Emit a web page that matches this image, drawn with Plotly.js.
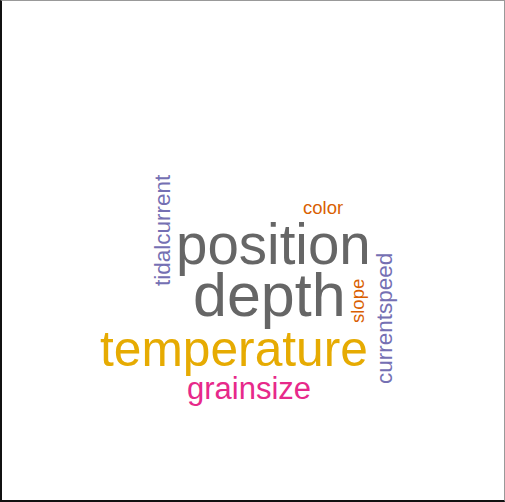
<!DOCTYPE html>
<html>
<head>
<meta charset="utf-8">
<script src="https://cdn.plot.ly/plotly-3.0.1.min.js"></script>
<style>
html,body{margin:0;padding:0;background:#fff;}
#chart{position:absolute;left:0;top:0;width:505px;height:502px;}
#frame{position:absolute;left:0;top:0;width:505px;height:502px;box-sizing:border-box;
border-left:2px solid #111;border-bottom:2px solid #111;border-top:1px solid #999;border-right:1px solid #999;pointer-events:none;}
</style>
</head>
<body>
<div id="chart"></div>
<div id="frame"></div>
<script>
// Word cloud data
var words = ["depth", "position", "temperature", "grainsize", "tidalcurrent", "currentspeed", "color", "slope"];
var weights = [61, 56.5, 49.7, 31, 22.5, 22.5, 18.5, 18.5];
var groups = ["gray", "gray", "yellow", "pink", "purple", "purple", "orange", "orange"];

// Layout of the cloud (placement in pixel-like coordinates)
var placeX = [269, 273.5, 233.5, 249, 162, 384, 322.5, 357];
var placeY = [295, 244, 349, 388, 230, 319, 207, 301];
var angles = [0, 0, 0, 0, -90, -90, 0, -90];

var palette = {gray: "#666666", yellow: "#E6AB02", pink: "#E7298A", purple: "#7570B3", orange: "#D95F02"};

var annotations = words.map(function (w, i) {
  return {
    x: placeX[i], y: placeY[i], xref: "x", yref: "y",
    text: w, showarrow: false, textangle: angles[i],
    xanchor: "center", yanchor: "middle",
    font: {family: "Liberation Sans, Arial, sans-serif", size: weights[i], color: palette[groups[i]]}
  };
});

var layout = {
  width: 505, height: 502,
  margin: {l: 0, r: 0, t: 0, b: 0},
  paper_bgcolor: "#fff", plot_bgcolor: "#fff",
  xaxis: {range: [0, 505], visible: false, fixedrange: true},
  yaxis: {range: [502, 0], visible: false, fixedrange: true},
  showlegend: false,
  annotations: annotations
};

Plotly.newPlot("chart", [{x: [], y: [], type: "scatter", mode: "markers", hoverinfo: "skip"}], layout, {displayModeBar: false, staticPlot: true});
</script>
</body>
</html>
